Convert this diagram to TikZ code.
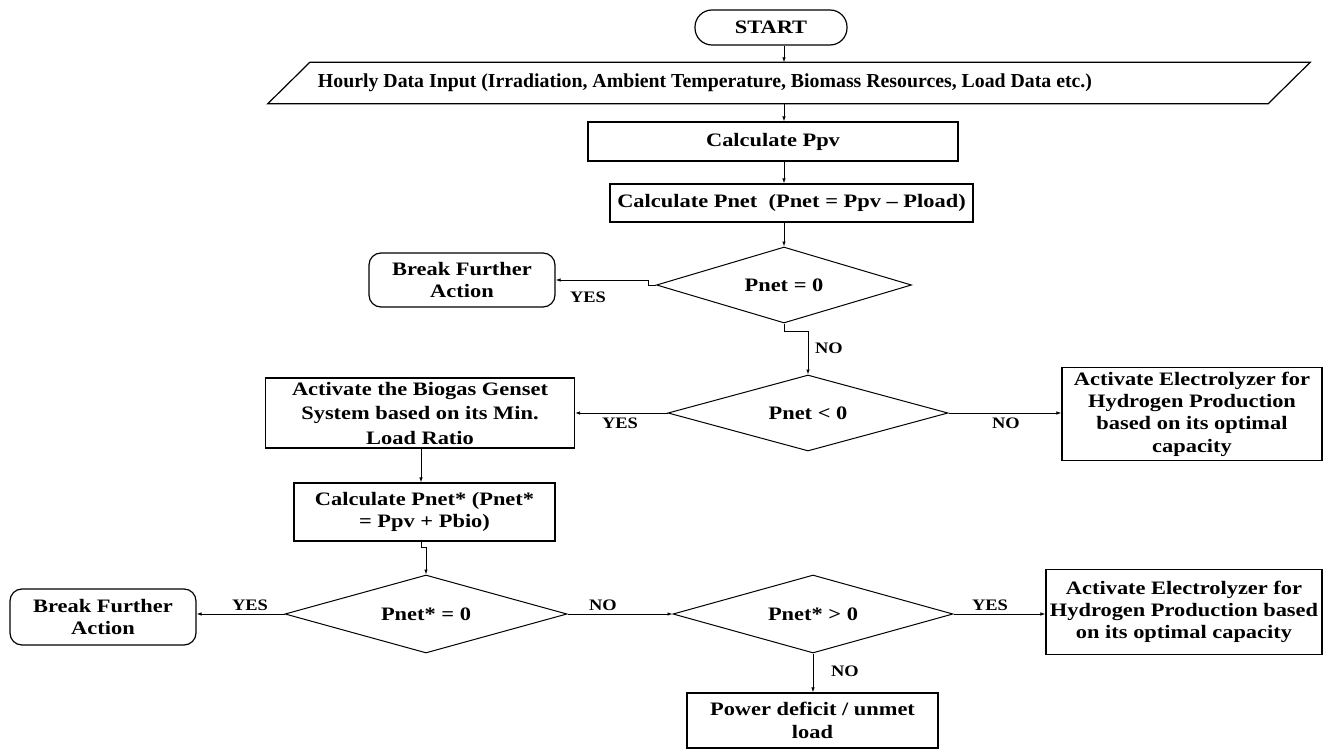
\documentclass[tikz,border=0pt]{standalone}
\usepackage{fontspec}
\setmainfont{Liberation Serif}
\newfontfamily\boxfont[FakeStretch=1.18,Ligatures=TeX]{Liberation Serif}
\newfontfamily\lblfont[FakeStretch=1.15,Ligatures=TeX]{Liberation Serif}
\usetikzlibrary{shapes.geometric,arrows.meta}
\tikzset{
  txt/.style={font=\boxfont\fontsize{19}{22.3}\selectfont\bfseries, align=center, inner sep=0pt},
  box/.style={txt, draw, line width=1.2pt},
  rbox/.style={box, rounded corners=12pt},
  dec/.style={txt, draw, line width=1pt, shape=diamond, aspect=3.5},
  lbl/.style={font=\lblfont\fontsize{16}{18}\selectfont\bfseries, inner sep=0pt},
  arr/.style={line width=0.8pt, -{Latex[length=5pt,width=3.5pt]}}
}
\begin{document}
\begin{tikzpicture}[x=1pt,y=-1pt]
\useasboundingbox (0,0) rectangle (1342,749);
% nodes
\node[rbox, rounded corners=17pt, minimum width=152pt, minimum height=35pt] (start) at (771,27.5) {START};
\node[minimum width=1000pt, minimum height=41pt, inner sep=0pt] (inp) at (789,83) {};
\draw[line width=1.2pt] ([xshift=21pt]inp.north west) -- ([xshift=21pt]inp.north east) -- ([xshift=-21pt]inp.south east) -- ([xshift=-21pt]inp.south west) -- cycle;
\node[font=\rmfamily\fontsize{19.8}{22}\selectfont\bfseries, inner sep=0pt] (inpt) at (705,83) {Hourly Data Input (Irradiation, Ambient Temperature, Biomass Resources, Load Data etc.)};
\node[box, minimum width=370pt, minimum height=39pt] (ppv) at (773,141.5) {Calculate Ppv};
\node[box, minimum width=363pt, minimum height=38pt] (pnet) at (791.5,203) {Calculate Pnet\ \ (Pnet = Ppv – Pload)};
\node[dec, minimum width=255pt, minimum height=76pt] (d1) at (784,285) {Pnet = 0};
\node[rbox, minimum width=186pt, minimum height=54pt] (brk1) at (462,280) {Break Further\\Action};
\node[dec, minimum width=280pt, minimum height=76pt] (d2) at (808,413) {Pnet {<} 0};
\node[box, minimum width=309pt, minimum height=70pt, font=\boxfont\fontsize{19}{24.5}\selectfont\bfseries] (bio) at (420,413) {Activate the Biogas Genset\\System based on its Min.\\Load Ratio};
\node[box, minimum width=260pt, minimum height=93pt] (el1) at (1192,414) {Activate Electrolyzer for\\Hydrogen Production\\based on its optimal\\capacity};
\node[box, minimum width=261pt, minimum height=58pt] (cpn) at (424.5,512) {Calculate Pnet* (Pnet*\\= Ppv + Pbio)};
\node[dec, minimum width=282pt, minimum height=78pt] (d3) at (426,614) {Pnet* = 0};
\node[rbox, minimum width=186pt, minimum height=56pt] (brk2) at (103,617) {Break Further\\Action};
\node[dec, minimum width=280pt, minimum height=78pt] (d4) at (813,614) {Pnet* {>} 0};
\node[box, minimum width=276pt, minimum height=85pt] (el2) at (1184,612) {Activate Electrolyzer for\\Hydrogen Production based\\on its optimal capacity};
\node[box, minimum width=251pt, minimum height=55pt] (pow) at (812.5,720.5) {Power deficit / unmet\\load};
% connectors
\draw[arr] (start.south -| d1.north) -- (inp.north -| d1.north);
\draw[arr] (inp.south -| d1.north) -- (ppv.north -| d1.north);
\draw[arr] (ppv.south -| d1.north) -- (pnet.north -| d1.north);
\draw[arr] (pnet.south -| d1.north) -- (d1.north);
\draw[arr] (d1.west) -- ++(-8,0) |- (brk1.east);
\draw[arr] (d1.south) -- ++(0,8) -| (d2.north);
\draw[arr] (d2.west) -- (d2.west -| bio.east);
\draw[arr] (d2.east) -- (d2.east -| el1.west);
\draw[arr] (bio.south -| 421,0) -- (cpn.north -| 421,0);
\draw[arr] (cpn.south -| 421,0) -- ++(0,6) -| (d3.north);
\draw[arr] (d3.west) -- (d3.west -| brk2.east);
\draw[arr] (d3.east) -- (d4.west);
\draw[arr] (d4.east) -- (d4.east -| el2.west);
\draw[arr] (d4.south) -- (d4.south |- pow.north);
% labels
\node[lbl] (l1) at (588,297) {YES};
\node[lbl] (l2) at (829,348) {NO};
\node[lbl] (l3) at (620,423) {YES};
\node[lbl] (l4) at (1006,423) {NO};
\node[lbl] (l5) at (250,605) {YES};
\node[lbl] (l6) at (603,605) {NO};
\node[lbl] (l7) at (990,605) {YES};
\node[lbl] (l8) at (845,671) {NO};
\end{tikzpicture}
\end{document}
